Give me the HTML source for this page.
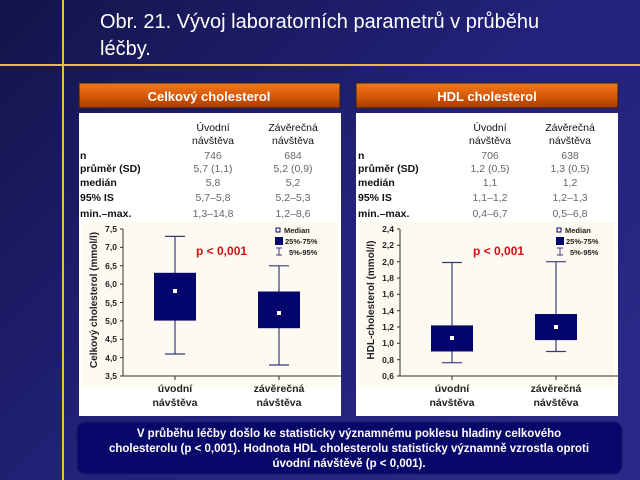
<!DOCTYPE html>
<html><head><meta charset="utf-8"><style>
html,body{margin:0;padding:0;width:640px;height:480px;overflow:hidden}
body{background:linear-gradient(135deg,#14144a 0%,#22227a 50%,#2a2a8a 100%);font-family:"Liberation Sans",sans-serif}
</style></head><body>
<svg width="640" height="480" viewBox="0 0 640 480" xmlns="http://www.w3.org/2000/svg" font-family="Liberation Sans, sans-serif">
<defs>
<linearGradient id="or" x1="0" y1="0" x2="0" y2="1"><stop offset="0" stop-color="#f07a20"/><stop offset="0.5" stop-color="#d85a08"/><stop offset="1" stop-color="#a83a00"/></linearGradient>
</defs>
<line x1="63" y1="0" x2="63" y2="480" stroke="#e8c040" stroke-width="2"/>
<line x1="0" y1="65" x2="640" y2="65" stroke="#e8c040" stroke-width="2"/>
<text x="100" y="28" fill="#fff" font-size="20">Obr. 21. Vývoj laboratorních parametrů v průběhu</text>
<text x="100" y="55" fill="#fff" font-size="20">léčby.</text>

<!-- headers -->
<rect x="79" y="83" width="261" height="25" fill="url(#or)" stroke="#222" stroke-width="1"/>
<text x="209" y="101" fill="#fff" font-size="13" font-weight="bold" text-anchor="middle">Celkový cholesterol</text>
<rect x="356" y="83" width="262" height="25" fill="url(#or)" stroke="#222" stroke-width="1"/>
<text x="487" y="101" fill="#fff" font-size="13" font-weight="bold" text-anchor="middle">HDL cholesterol</text>

<!-- panels -->
<rect x="79" y="113" width="262" height="303" fill="#fff"/>
<rect x="356" y="113" width="262" height="303" fill="#fff"/>
<rect x="82" y="222" width="256" height="165" fill="#fdfaf2"/>
<rect x="359" y="222" width="256" height="165" fill="#fdfaf2"/>

<!-- left table -->
<g font-size="10.5" fill="#111">
<text x="213" y="131" text-anchor="middle">Úvodní</text><text x="213" y="144" text-anchor="middle">návštěva</text>
<text x="293" y="131" text-anchor="middle">Závěrečná</text><text x="293" y="144" text-anchor="middle">návštěva</text>
<g font-weight="bold"><text x="80" y="159">n</text><text x="80" y="172">průměr (SD)</text><text x="80" y="186">medián</text><text x="80" y="201">95% IS</text><text x="80" y="217">min.–max.</text></g>
<g fill="#666" text-anchor="middle">
<text x="213" y="159">746</text><text x="293" y="159">684</text>
<text x="213" y="172">5,7 (1,1)</text><text x="293" y="172">5,2 (0,9)</text>
<text x="213" y="186">5,8</text><text x="293" y="186">5,2</text>
<text x="213" y="201">5,7–5,8</text><text x="293" y="201">5,2–5,3</text>
<text x="213" y="217">1,3–14,8</text><text x="293" y="217">1,2–8,6</text></g>
</g>
<!-- right table -->
<g font-size="10.5" fill="#111">
<text x="490" y="131" text-anchor="middle">Úvodní</text><text x="490" y="144" text-anchor="middle">návštěva</text>
<text x="570" y="131" text-anchor="middle">Závěrečná</text><text x="570" y="144" text-anchor="middle">návštěva</text>
<g font-weight="bold"><text x="358" y="159">n</text><text x="358" y="172">průměr (SD)</text><text x="358" y="186">medián</text><text x="358" y="201">95% IS</text><text x="358" y="217">min.–max.</text></g>
<g fill="#666" text-anchor="middle">
<text x="490" y="159">706</text><text x="570" y="159">638</text>
<text x="490" y="172">1,2 (0,5)</text><text x="570" y="172">1,3 (0,5)</text>
<text x="490" y="186">1,1</text><text x="570" y="186">1,2</text>
<text x="490" y="201">1,1–1,2</text><text x="570" y="201">1,2–1,3</text>
<text x="490" y="217">0,4–6,7</text><text x="570" y="217">0,5–6,8</text></g>
</g>

<!-- left chart: 7.5->229, 3.5->376, 36.75/unit -->
<g stroke="#333" stroke-width="1">
<line x1="123" y1="229" x2="123" y2="376"/><line x1="123" y1="376" x2="341" y2="376"/>
<line x1="120" y1="229" x2="123" y2="229"/><line x1="120" y1="247.4" x2="123" y2="247.4"/><line x1="120" y1="265.8" x2="123" y2="265.8"/><line x1="120" y1="284.1" x2="123" y2="284.1"/><line x1="120" y1="302.5" x2="123" y2="302.5"/><line x1="120" y1="320.9" x2="123" y2="320.9"/><line x1="120" y1="339.3" x2="123" y2="339.3"/><line x1="120" y1="357.6" x2="123" y2="357.6"/><line x1="120" y1="376" x2="123" y2="376"/>
<line x1="175" y1="376" x2="175" y2="380"/><line x1="279" y1="376" x2="279" y2="380"/>
</g>
<g font-size="8.5" fill="#222" text-anchor="end" font-weight="bold">
<text x="117" y="232">7,5</text><text x="117" y="250">7,0</text><text x="117" y="269">6,5</text><text x="117" y="287">6,0</text><text x="117" y="306">5,5</text><text x="117" y="324">5,0</text><text x="117" y="342">4,5</text><text x="117" y="361">4,0</text><text x="117" y="379">3,5</text>
</g>
<text transform="translate(97,300) rotate(-90)" font-size="10" font-weight="bold" fill="#222" text-anchor="middle">Celkový cholesterol (mmol/l)</text>
<g stroke="#3a3a7a" stroke-width="1.2">
<line x1="175" y1="236.4" x2="175" y2="354"/><line x1="165" y1="236.4" x2="185" y2="236.4"/><line x1="165" y1="354" x2="185" y2="354"/>
<line x1="279" y1="265.8" x2="279" y2="365"/><line x1="269" y1="265.8" x2="289" y2="265.8"/><line x1="269" y1="365" x2="289" y2="365"/>
</g>
<rect x="154" y="272.8" width="42" height="47.8" fill="#05056e"/>
<rect x="258" y="291.5" width="42" height="36.7" fill="#05056e"/>
<rect x="173" y="289" width="4" height="4" fill="#fff"/>
<rect x="277" y="311" width="4" height="4" fill="#fff"/>
<text x="196" y="255" font-size="12" font-weight="bold" fill="#d01010">p &lt; 0,001</text>
<g font-size="7.5" font-weight="bold" fill="#222">
<rect x="276" y="228" width="4" height="4" fill="#fff" stroke="#05056e"/><text x="284" y="233">Median</text>
<rect x="275" y="237" width="8" height="8" fill="#05056e"/><text x="285" y="244">25%-75%</text>
<path d="M276 248h6M279 248v7M276 255h6" stroke="#3a3a7a" fill="none"/><text x="289" y="255">5%-95%</text>
</g>
<g font-size="10.5" font-weight="bold" fill="#222" text-anchor="middle">
<text x="175" y="392">úvodní</text><text x="175" y="406">návštěva</text>
<text x="279" y="392">závěrečná</text><text x="279" y="406">návštěva</text>
</g>

<!-- right chart: 2.4->229, 0.6->376, 81.67/unit -->
<g stroke="#333" stroke-width="1">
<line x1="400" y1="229" x2="400" y2="376"/><line x1="400" y1="376" x2="618" y2="376"/>
<line x1="397" y1="229" x2="400" y2="229"/><line x1="397" y1="245.3" x2="400" y2="245.3"/><line x1="397" y1="261.7" x2="400" y2="261.7"/><line x1="397" y1="278" x2="400" y2="278"/><line x1="397" y1="294.3" x2="400" y2="294.3"/><line x1="397" y1="310.7" x2="400" y2="310.7"/><line x1="397" y1="327" x2="400" y2="327"/><line x1="397" y1="343.3" x2="400" y2="343.3"/><line x1="397" y1="359.7" x2="400" y2="359.7"/><line x1="397" y1="376" x2="400" y2="376"/>
<line x1="452" y1="376" x2="452" y2="380"/><line x1="556" y1="376" x2="556" y2="380"/>
</g>
<g font-size="8.5" fill="#222" text-anchor="end" font-weight="bold">
<text x="394" y="232">2,4</text><text x="394" y="248">2,2</text><text x="394" y="265">2,0</text><text x="394" y="281">1,8</text><text x="394" y="297">1,6</text><text x="394" y="314">1,4</text><text x="394" y="330">1,2</text><text x="394" y="346">1,0</text><text x="394" y="363">0,8</text><text x="394" y="379">0,6</text>
</g>
<text transform="translate(374,300) rotate(-90)" font-size="10" font-weight="bold" fill="#222" text-anchor="middle">HDL-cholesterol (mmol/l)</text>
<g stroke="#3a3a7a" stroke-width="1.2">
<line x1="452" y1="262.5" x2="452" y2="362.7"/><line x1="442" y1="262.5" x2="462" y2="262.5"/><line x1="442" y1="362.7" x2="462" y2="362.7"/>
<line x1="556" y1="261.7" x2="556" y2="351.5"/><line x1="546" y1="261.7" x2="566" y2="261.7"/><line x1="546" y1="351.5" x2="566" y2="351.5"/>
</g>
<rect x="431" y="325.4" width="42" height="26.1" fill="#05056e"/>
<rect x="535" y="314" width="42" height="26.1" fill="#05056e"/>
<rect x="450" y="336" width="4" height="4" fill="#fff"/>
<rect x="554" y="325" width="4" height="4" fill="#fff"/>
<text x="473" y="255" font-size="12" font-weight="bold" fill="#d01010">p &lt; 0,001</text>
<g font-size="7.5" font-weight="bold" fill="#222">
<rect x="557" y="228" width="4" height="4" fill="#fff" stroke="#05056e"/><text x="565" y="233">Median</text>
<rect x="556" y="237" width="8" height="8" fill="#05056e"/><text x="566" y="244">25%-75%</text>
<path d="M557 248h6M560 248v7M557 255h6" stroke="#3a3a7a" fill="none"/><text x="570" y="255">5%-95%</text>
</g>
<g font-size="10.5" font-weight="bold" fill="#222" text-anchor="middle">
<text x="452" y="392">úvodní</text><text x="452" y="406">návštěva</text>
<text x="556" y="392">závěrečná</text><text x="556" y="406">návštěva</text>
</g>

<!-- bottom box -->
<rect x="77" y="422" width="545" height="52" rx="8" fill="#08086a" stroke="#1a1a60"/>
<g font-size="11.5" font-weight="bold" fill="#fff" text-anchor="middle">
<text x="349" y="437">V průběhu léčby došlo ke statisticky významnému poklesu hladiny celkového</text>
<text x="349" y="452">cholesterolu (p &lt; 0,001). Hodnota HDL cholesterolu statisticky významně vzrostla oproti</text>
<text x="349" y="467">úvodní návštěvě (p &lt; 0,001).</text>
</g>
</svg>
</body></html>
